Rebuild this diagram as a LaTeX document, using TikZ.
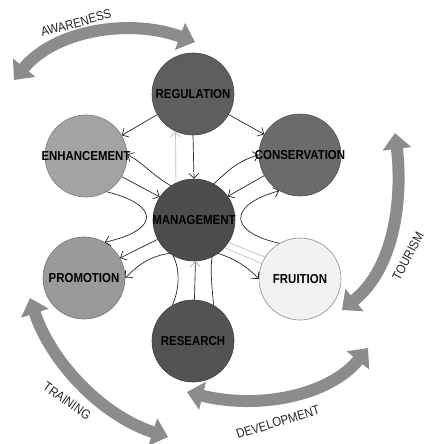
\documentclass[tikz,border=0pt]{standalone}
\usepackage{fontspec}
\setmainfont{Liberation Sans}
\newfontfamily\narrowfont[FakeStretch=0.88]{Liberation Sans}
\usetikzlibrary{arrows.meta}
\definecolor{cReg}{HTML}{5E5E5E}
\definecolor{cEnh}{HTML}{A3A3A3}
\definecolor{cCon}{HTML}{6B6B6B}
\definecolor{cMan}{HTML}{4D4D4D}
\definecolor{cPro}{HTML}{9A9A9A}
\definecolor{cFru}{HTML}{F2F2F2}
\definecolor{cRes}{HTML}{535353}
\definecolor{cArr}{HTML}{8C8C8C}
\begin{document}
\begin{tikzpicture}[x=1pt,y=1pt,
  circ/.style={circle,minimum size=82pt,inner sep=0pt,fill=#1,draw=#1!75!black,line width=0.6pt},
  lbl/.style={font=\narrowfont\bfseries\fontsize{13}{14}\selectfont,text=black,inner sep=0pt},
  arclbl/.style={font=\narrowfont\fontsize{13}{14}\selectfont,text=black!85,inner sep=0pt},
  conn/.style={draw=black!85,line width=0.7pt,-{Straight Barb[length=5pt,width=10pt]}},
  plain/.style={draw=black!85,line width=0.7pt},
  faint/.style={draw=black!25,line width=0.7pt},
  big/.style={draw=cArr,line width=12pt,{Triangle[length=16pt,width=28pt]}-{Triangle[length=16pt,width=28pt]}}]
\path[use as bounding box] (0,0) rectangle (426,-444);

% thick arrows
\coordinate (aw1) at (14,-80);   \coordinate (aw2) at (195,-42);
\coordinate (to1) at (395,-133); \coordinate (to2) at (342,-310);
\coordinate (de1) at (187,-392); \coordinate (de2) at (368,-348);
\coordinate (tr1) at (30,-298);  \coordinate (tr2) at (168,-437);
\draw[big] (aw1) .. controls (55,-30) and (130,-18) .. (aw2);
\draw[big] (to1) .. controls (402,-190) and (398,-265) .. (to2);
\draw[big] (de1) .. controls (260,-410) and (330,-395) .. (de2);
\draw[big] (tr1) .. controls (50,-360) and (100,-415) .. (tr2);

\node[arclbl,rotate=15] (awl) at (76,-23) {AWARENESS};
\node[arclbl,rotate=62] (tol) at (408,-256) {TOURISM};
\node[arclbl,rotate=-35] (trl) at (67,-401) {TRAINING};
\node[arclbl,rotate=17] (del) at (278,-422) {DEVELOPMENT};

% circles
\node[circ=cReg] (reg) at (193,-94) {};
\node[circ=cEnh] (enh) at (86,-156) {};
\node[circ=cCon] (con) at (300,-155) {};
\node[circ=cMan] (man) at (194,-220) {};
\node[circ=cPro] (pro) at (84,-278) {};
\node[circ=cFru,draw=black!45] (fru) at (300,-279) {};
\node[circ=cRes] (res) at (193,-341) {};

% connectors
\draw[conn] (reg.210) -- (enh.30);
\draw[conn] (reg.330) -- (con.150);
\draw[conn] (reg.270) -- (man.90);
\draw[faint,-{Straight Barb[length=5pt,width=10pt]}] (man.116) -- (reg.245);
\draw[conn] (man.124) .. controls (152,-175) and (142,-162) .. (enh.2);
\draw[conn] (enh.330) -- (man.146);
\draw[conn] (enh.300) .. controls (160,-205) and (160,-230) .. (pro.60);
\draw[conn] (man.61) .. controls (228,-170) and (240,-160) .. (con.180);
\draw[conn] (con.210) -- (man.35);
\draw[conn] (fru.120) .. controls (228,-232) and (228,-205) .. (con.240);
\draw[conn] (man.208) -- (pro.29);
\draw[conn] (man.234) .. controls (150,-256) and (138,-265) .. (pro.0);
\draw[plain] (man.239) .. controls (180,-268) and (180,-288) .. (res.120);
\draw[plain] (man.296) .. controls (210,-268) and (212,-288) .. (res.60);
\draw[faint] (man.327) -- (fru.148);
\draw[faint] (man.318) -- (fru.158);
\draw[plain,-{Straight Barb[length=5pt,width=10pt,color=black!35]}] (res.88) -- (man.272);
\draw[conn] (man.306) .. controls (232,-258) and (246,-265) .. (fru.180);

% labels
\node[lbl] (regT) at (reg) {REGULATION};
\node[lbl] (enhT) at (enh) {ENHANCEMENT};
\node[lbl] (conT) at (con) {CONSERVATION};
\node[lbl] (manT) at (man) {MANAGEMENT};
\node[lbl] (proT) at (pro) {PROMOTION};
\node[lbl] (fruT) at (fru) {FRUITION};
\node[lbl] (resT) at (res) {RESEARCH};
\end{tikzpicture}
\end{document}
